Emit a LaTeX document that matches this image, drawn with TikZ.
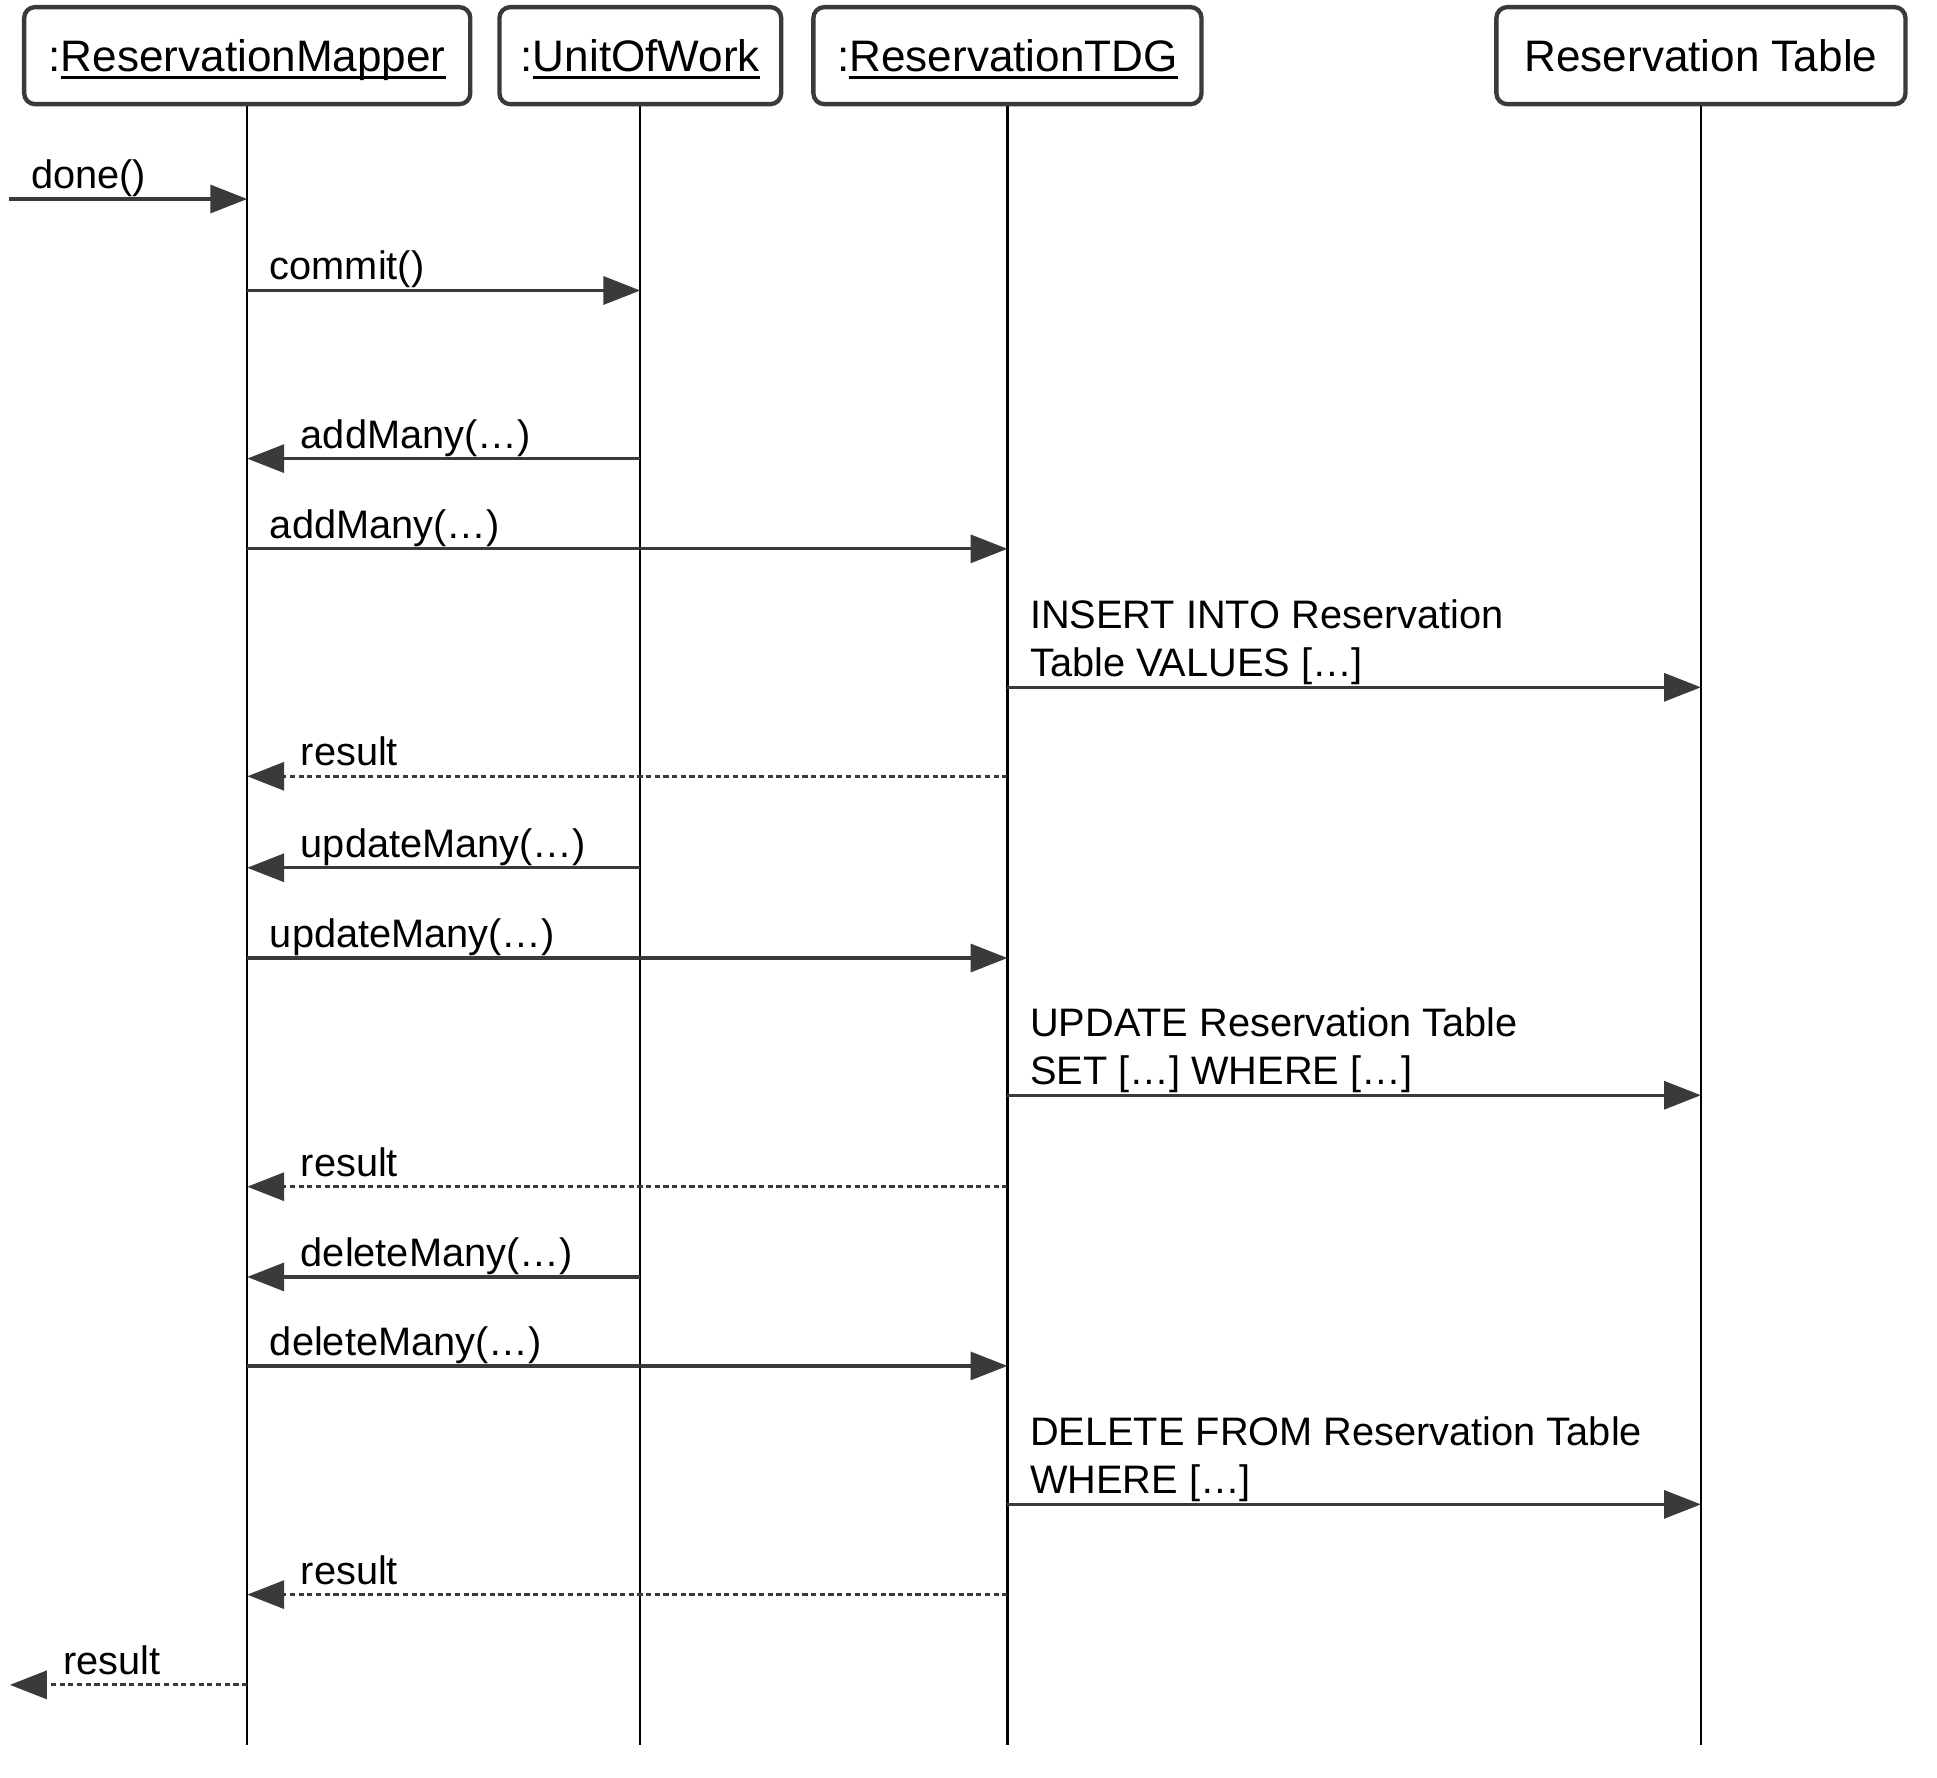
\documentclass[tikz,border=0pt]{standalone}
\usepackage{fontspec}
\setmainfont{Liberation Sans}
\usetikzlibrary{arrows.meta}
\definecolor{ink}{HTML}{3A3A3A}
\newcommand\ulname[1]{\setbox0\hbox{#1}\rlap{\rule[-3.6pt]{\wd0}{1.4pt}}\box0}
\begin{document}
\begin{tikzpicture}[x=0.02cm,y=-0.02cm,
  obj/.style={draw=ink, line width=2pt, rounded corners=5pt, fill=white, inner sep=0pt,
    text height=14.5pt, text depth=0pt, minimum height=1.57cm, font=\fontsize{20.3}{24}\selectfont},
  life/.style={black, line width=1pt},
  msg/.style={draw=ink, line width=1.5pt, -{Triangle[length=17pt,width=12.9pt]}},
  ret/.style={msg, dash pattern=on 2.4pt off 1.6pt},
  lbl/.style={font=\fontsize{18.3}{22.2}\selectfont, inner sep=0pt, anchor=base west, align=left}]
\useasboundingbox (0,0) rectangle (1567,1438);
% lifeline ends
\coordinate (mapperEnd) at (200,1412);
\coordinate (uowEnd) at (518,1412);
\coordinate (tdgEnd) at (815,1412);
\coordinate (rtabEnd) at (1376,1412);
\draw[life] (200,84) -- (mapperEnd);
\draw[life] (518,84) -- (uowEnd);
\draw[life] (815,84) -- (tdgEnd);
\draw[life] (1376,84) -- (rtabEnd);
% objects
\node[obj, minimum width=7.22cm] (mapper) at (200,45) {:\ulname{ReservationMapper}};
\node[obj, minimum width=4.56cm] (uow) at (518,45) {:\ulname{UnitOfWork}};
\node[obj, minimum width=6.28cm] (tdg) at (815,45) {:\ulname{ReservationTDG}};
\node[obj, minimum width=6.62cm] (rtab) at (1376,45) {Reservation Table};
% message rows
\coordinate (in) at (7,161);
\coordinate (r2) at (0,235);
\coordinate (r3) at (0,371);
\coordinate (r4) at (0,444);
\coordinate (r5) at (0,556);
\coordinate (r6) at (0,628);
\coordinate (r7) at (0,702);
\coordinate (r8) at (0,775);
\coordinate (r9) at (0,886);
\coordinate (r10) at (0,960);
\coordinate (r11) at (0,1033);
\coordinate (r12) at (0,1105);
\coordinate (r13) at (0,1217);
\coordinate (r14) at (0,1290);
\coordinate (out) at (8,1363);
% messages
\draw[msg] (in) -- (mapperEnd |- in);
\node[lbl] (l1) at (25,152.5) {done()};
\draw[msg] (mapperEnd |- r2) -- (uowEnd |- r2);
\node[lbl] (l2) at (218,226.5) {commit()};
\draw[msg] (uowEnd |- r3) -- (mapperEnd |- r3);
\node[lbl] (l3) at (243,362.5) {addMany(…)};
\draw[msg] (mapperEnd |- r4) -- (tdgEnd |- r4);
\node[lbl] (l4) at (218,435.5) {addMany(…)};
\draw[msg] (tdgEnd |- r5) -- (rtabEnd |- r5);
\node[lbl] (l5) at (833,547.5) {INSERT INTO Reservation\\Table VALUES […]};
\draw[ret] (tdgEnd |- r6) -- (mapperEnd |- r6);
\node[lbl] (l6) at (243,619.5) {result};
\draw[msg] (uowEnd |- r7) -- (mapperEnd |- r7);
\node[lbl] (l7) at (243,693.5) {updateMany(…)};
\draw[msg] (mapperEnd |- r8) -- (tdgEnd |- r8);
\node[lbl] (l8) at (218,766.5) {updateMany(…)};
\draw[msg] (tdgEnd |- r9) -- (rtabEnd |- r9);
\node[lbl] (l9) at (833,877.5) {UPDATE Reservation Table\\SET […] WHERE […]};
\draw[ret] (tdgEnd |- r10) -- (mapperEnd |- r10);
\node[lbl] (l10) at (243,951.5) {result};
\draw[msg] (uowEnd |- r11) -- (mapperEnd |- r11);
\node[lbl] (l11) at (243,1024.5) {deleteMany(…)};
\draw[msg] (mapperEnd |- r12) -- (tdgEnd |- r12);
\node[lbl] (l12) at (218,1096.5) {deleteMany(…)};
\draw[msg] (tdgEnd |- r13) -- (rtabEnd |- r13);
\node[lbl] (l13) at (833,1208.5) {DELETE FROM Reservation Table\\WHERE […]};
\draw[ret] (tdgEnd |- r14) -- (mapperEnd |- r14);
\node[lbl] (l14) at (243,1281.5) {result};
\draw[ret] (mapperEnd |- out) -- (out);
\node[lbl] (l15) at (51,1354.5) {result};
\end{tikzpicture}
\end{document}
